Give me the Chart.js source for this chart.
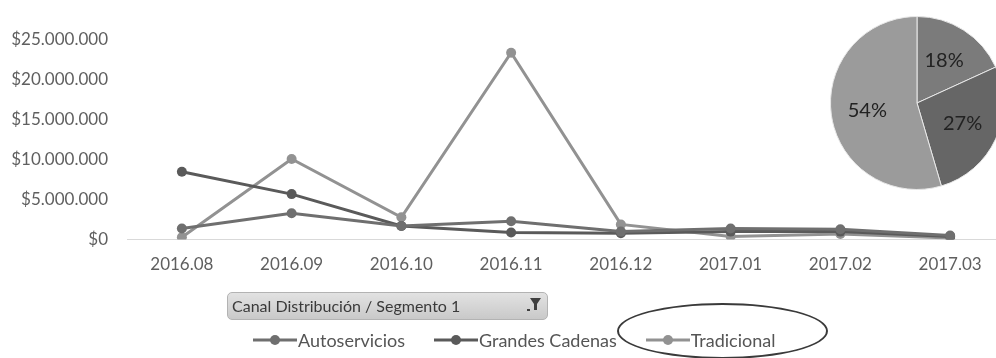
<!DOCTYPE html>
<html>
<head>
<meta charset="utf-8">
<script src="https://cdn.jsdelivr.net/npm/chart.js@4.4.1/dist/chart.umd.min.js"></script>
<style>
  html, body { margin: 0; padding: 0; background: #fff; overflow: hidden; }
  body { width: 996px; height: 358px; position: relative; font-family: Lato, sans-serif; }
  #lineWrap { position: absolute; left: 0; top: 0; width: 1010px; height: 296px; }
  #pieWrap { position: absolute; left: 830px; top: 16px; width: 174px; height: 174px; }
  .filter {
    position: absolute; left: 227px; top: 292px; width: 321px; height: 28px;
    box-sizing: border-box; border: 1px solid #b3b3b3; border-radius: 5px;
    background: linear-gradient(#e2e2e2, #c9c9c9);
    font-size: 16px; color: #3a3a3a; line-height: 26px; padding-left: 4px;
  }
  .filter svg { position: absolute; right: 5px; top: 4px; }
  #legend {
    position: absolute; left: 253px; top: 328px; display: flex; gap: 29px;
    font-size: 18px; color: #555; line-height: 24px;
  }
  #legend .item { display: flex; align-items: center; }
  #legend canvas { margin-right: 1px; }
  .ring {
    position: absolute; left: 617px; top: 303px; width: 211px; height: 56px;
    box-sizing: border-box; border: 2px solid #3a3a3a; border-radius: 50%;
  }
</style>
</head>
<body>
<div id="lineWrap"><canvas id="lineChart" width="1010" height="296"></canvas></div>
<div id="pieWrap"><canvas id="pieChart" width="174" height="174"></canvas></div>
<div class="filter">Canal Distribución / Segmento 1
  <svg width="16" height="17" viewBox="0 0 16 17">
    <path d="M4 1 H15 L11 7 V13 H8 V7 Z" fill="#3f3f3f"/>
    <rect x="1" y="12" width="3" height="2" fill="#3f3f3f"/>
  </svg>
</div>
<div id="legend"></div>
<div class="ring"></div>

<script>
// months on the x axis
var months = ['2016.08', '2016.09', '2016.10', '2016.11', '2016.12', '2017.01', '2017.02', '2017.03'];

// sales per channel (pesos)
var autoservicios  = [1400000, 3300000, 1700000, 2300000, 1000000, 1400000, 1300000, 500000];
var grandesCadenas = [8500000, 5700000, 1700000, 900000, 800000, 1000000, 1000000, 400000];
var tradicional    = [300000, 10100000, 2800000, 23400000, 1900000, 400000, 700000, 200000];

// share of total per channel (%)
var channelNames = ['Autoservicios', 'Grandes Cadenas', 'Tradicional'];
var channelShare = [18, 27, 54];

var lineColors = ['#6f6f6f', '#5a5a5a', '#929292'];
var pieColors  = ['#7b7b7b', '#666666', '#9b9b9b'];

function money(v) {
    return '$' + String(v).replace(/\B(?=(\d{3})+(?!\d))/g, '.');
}

function makeSeries(label, data, color) {
    return {
        label: label,
        data: data,
        borderColor: color,
        backgroundColor: color,
        borderWidth: 3,
        pointRadius: 5,
        pointHoverRadius: 5,
        pointBorderWidth: 0,
        tension: 0
    };
}

new Chart(document.getElementById('lineChart'), {
    type: 'line',
    data: {
        labels: months,
        datasets: [
            makeSeries(channelNames[0], autoservicios, lineColors[0]),
            makeSeries(channelNames[1], grandesCadenas, lineColors[1]),
            makeSeries(channelNames[2], tradicional, lineColors[2])
        ]
    },
    options: {
        responsive: false,
        animation: false,
        layout: { padding: { top: 40, right: 3, bottom: 6, left: 0 } },
        plugins: { legend: { display: false }, tooltip: { enabled: false } },
        scales: {
            x: {
                offset: true,
                grid: { display: false, drawTicks: false },
                border: { display: false },
                ticks: { color: '#5f5f5f', font: { family: 'Lato', size: 17 }, padding: 15 }
            },
            y: {
                min: 0,
                max: 25000000,
                afterFit: function (scale) { scale.width = 127; },
                grid: {
                    drawTicks: false,
                    lineWidth: 1,
                    color: function (ctx) { return ctx.tick && ctx.tick.value === 0 ? '#d9d9d9' : 'rgba(0,0,0,0)'; }
                },
                border: { display: false },
                ticks: {
                    stepSize: 5000000,
                    color: '#5f5f5f',
                    font: { family: 'Lato', size: 17 },
                    padding: 19,
                    callback: function (v) { return money(v); }
                }
            }
        }
    }
});

// percentage labels inside the pie slices
var sliceLabels = {
    id: 'sliceLabels',
    afterDatasetsDraw: function (chart) {
        var ctx = chart.ctx;
        var meta = chart.getDatasetMeta(0);
        ctx.save();
        ctx.font = '20px Lato';
        ctx.fillStyle = '#222';
        ctx.textAlign = 'center';
        ctx.textBaseline = 'middle';
        meta.data.forEach(function (arc, i) {
            var mid = (arc.startAngle + arc.endAngle) / 2;
            var r = arc.outerRadius * 0.58;
            ctx.fillText(channelShare[i] + '%', arc.x + Math.cos(mid) * r, arc.y + Math.sin(mid) * r);
        });
        ctx.restore();
    }
};

new Chart(document.getElementById('pieChart'), {
    type: 'pie',
    data: {
        labels: channelNames,
        datasets: [{
            data: channelShare,
            backgroundColor: pieColors,
            borderColor: '#e8e8e8',
            borderWidth: 1
        }]
    },
    options: {
        responsive: false,
        animation: false,
        layout: { padding: 0 },
        plugins: { legend: { display: false }, tooltip: { enabled: false } }
    },
    plugins: [sliceLabels]
});

// legend row: line-with-dot marker followed by the channel name
var legend = document.getElementById('legend');
channelNames.forEach(function (name, i) {
    var item = document.createElement('div');
    item.className = 'item';
    var mark = document.createElement('canvas');
    mark.width = 44; mark.height = 14;
    var c = mark.getContext('2d');
    c.strokeStyle = lineColors[i];
    c.fillStyle = lineColors[i];
    c.lineWidth = 3;
    c.beginPath(); c.moveTo(0, 7); c.lineTo(44, 7); c.stroke();
    c.beginPath(); c.arc(22, 7, 5, 0, Math.PI * 2); c.fill();
    item.appendChild(mark);
    item.appendChild(document.createTextNode(name));
    legend.appendChild(item);
});
</script>
</body>
</html>
